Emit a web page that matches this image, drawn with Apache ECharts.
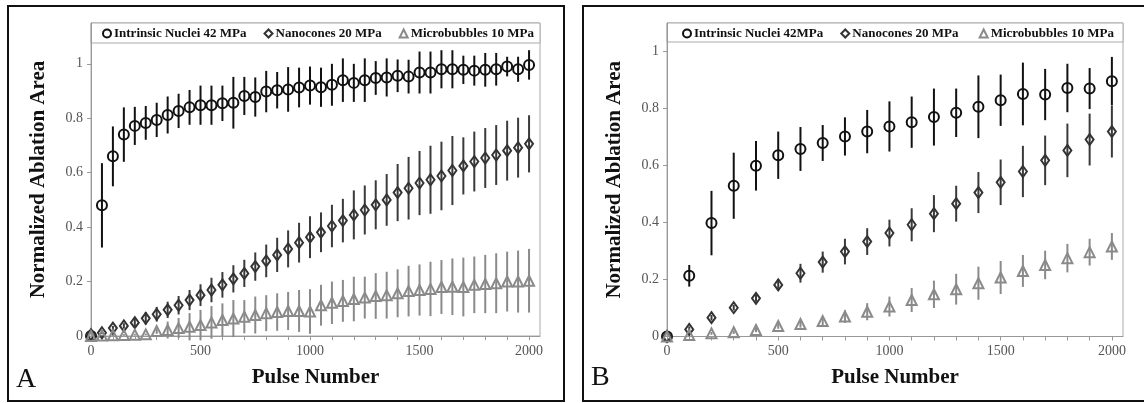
<!DOCTYPE html>
<html>
<head>
<meta charset="utf-8">
<script src="https://cdn.jsdelivr.net/npm/echarts@6/dist/echarts.min.js"></script>
<style>
  html, body { margin: 0; padding: 0; background: #fff; }
  #chart { width: 1144px; height: 403px; }
</style>
</head>
<body>
<div id="chart"></div>
<script>
// Panel A: every 50 pulses
const pulsesA = [0, 50, 100, 150, 200, 250, 300, 350, 400, 450, 500, 550, 600, 650, 700, 750, 800, 850, 900, 950,
  1000, 1050, 1100, 1150, 1200, 1250, 1300, 1350, 1400, 1450, 1500, 1550, 1600, 1650, 1700, 1750, 1800, 1850, 1900, 1950, 2000];
const nucleiA = [0, 0.48, 0.66, 0.74, 0.772, 0.783, 0.794, 0.812, 0.827, 0.84, 0.848, 0.848, 0.855, 0.857, 0.882, 0.878, 0.898, 0.903, 0.906, 0.913,
  0.92, 0.914, 0.923, 0.94, 0.93, 0.94, 0.948, 0.95, 0.956, 0.953, 0.968, 0.968, 0.98, 0.98, 0.978, 0.975, 0.978, 0.98, 0.99, 0.98, 0.996];
const nucleiErrA = [0, 0.155, 0.11, 0.1, 0.07, 0.062, 0.063, 0.068, 0.063, 0.064, 0.072, 0.072, 0.065, 0.095, 0.07, 0.072, 0.076, 0.067, 0.082, 0.073,
  0.07, 0.072, 0.077, 0.08, 0.07, 0.08, 0.062, 0.07, 0.06, 0.062, 0.077, 0.077, 0.07, 0.07, 0.052, 0.055, 0.062, 0.06, 0.036, 0.046, 0.054];
const conesA = [0.005, 0.012, 0.029, 0.037, 0.049, 0.065, 0.08, 0.096, 0.113, 0.132, 0.15, 0.169, 0.188, 0.21, 0.23, 0.255, 0.276, 0.298, 0.32, 0.343,
  0.363, 0.381, 0.404, 0.424, 0.445, 0.463, 0.482, 0.5, 0.527, 0.543, 0.562, 0.574, 0.588, 0.608, 0.625, 0.641, 0.654, 0.665, 0.681, 0.692, 0.706];
const conesErrA = [0, 0.005, 0.008, 0.01, 0.015, 0.023, 0.027, 0.03, 0.034, 0.037, 0.04, 0.045, 0.047, 0.05, 0.05, 0.052, 0.06, 0.063, 0.068, 0.073,
  0.077, 0.073, 0.078, 0.08, 0.09, 0.09, 0.09, 0.095, 0.105, 0.115, 0.118, 0.125, 0.126, 0.127, 0.105, 0.11, 0.11, 0.11, 0.11, 0.11, 0.105];
const bubblesA = [0, 0.002, 0.003, 0.004, 0.005, 0.006, 0.018, 0.022, 0.029, 0.034, 0.04, 0.05, 0.059, 0.064, 0.071, 0.077, 0.084, 0.088, 0.092, 0.092,
  0.09, 0.113, 0.122, 0.129, 0.136, 0.141, 0.147, 0.15, 0.157, 0.165, 0.169, 0.173, 0.18, 0.181, 0.18, 0.188, 0.191, 0.194, 0.2, 0.2, 0.203];
const bubblesErrA = [0, 0.002, 0.003, 0.003, 0.003, 0.003, 0.01, 0.031, 0.037, 0.05, 0.056, 0.06, 0.061, 0.068, 0.061, 0.068, 0.066, 0.069, 0.07, 0.077,
  0.082, 0.075, 0.078, 0.077, 0.082, 0.077, 0.084, 0.086, 0.088, 0.093, 0.094, 0.1, 0.099, 0.104, 0.108, 0.104, 0.107, 0.11, 0.11, 0.114, 0.117];

// Panel B: every 100 pulses
const pulsesB = [0, 100, 200, 300, 400, 500, 600, 700, 800, 900, 1000, 1100, 1200, 1300, 1400, 1500, 1600, 1700, 1800, 1900, 2000];
const nucleiB = [0, 0.213, 0.398, 0.529, 0.599, 0.636, 0.658, 0.679, 0.702, 0.719, 0.737, 0.752, 0.77, 0.785, 0.806, 0.829, 0.851, 0.849, 0.872, 0.87, 0.896];
const nucleiErrB = [0, 0.038, 0.113, 0.116, 0.087, 0.083, 0.077, 0.063, 0.067, 0.076, 0.088, 0.09, 0.1, 0.085, 0.11, 0.09, 0.11, 0.09, 0.085, 0.072, 0.085];
const conesB = [0, 0.025, 0.066, 0.101, 0.134, 0.181, 0.222, 0.261, 0.298, 0.333, 0.363, 0.392, 0.431, 0.466, 0.505, 0.541, 0.579, 0.618, 0.653, 0.691, 0.719];
const conesErrB = [0, 0.01, 0.01, 0.01, 0.012, 0.02, 0.033, 0.037, 0.045, 0.047, 0.047, 0.058, 0.065, 0.063, 0.072, 0.08, 0.09, 0.087, 0.094, 0.091, 0.091];
const bubblesB = [0, 0.005, 0.011, 0.015, 0.023, 0.037, 0.044, 0.054, 0.07, 0.087, 0.105, 0.128, 0.148, 0.166, 0.187, 0.207, 0.23, 0.251, 0.275, 0.296, 0.316];
const bubblesErrB = [0, 0.003, 0.005, 0.006, 0.008, 0.01, 0.013, 0.015, 0.022, 0.03, 0.035, 0.042, 0.048, 0.054, 0.058, 0.058, 0.056, 0.05, 0.05, 0.047, 0.047];

const xTickValues = [0, 100, 200, 300, 400, 500, 600, 700, 800, 900, 1000, 1100, 1200, 1300, 1400, 1500, 1600, 1700, 1800, 1900, 2000];
const xLabelValues = [0, 500, 1000, 1500, 2000];
const yValues = [0, 0.2, 0.4, 0.6, 0.8, 1];

const SERIF = '"Liberation Serif", "DejaVu Serif", serif';
const styles = {
  nuclei: { symbol: 'circle', size: 10, color: '#111', bar: '#111' },
  cones: { symbol: 'diamond', size: [8, 11], color: '#333', bar: '#3a3a3a' },
  bubbles: { symbol: 'triangle', size: 10, color: '#8a8a8a', bar: '#8a8a8a' },
};

const chart = echarts.init(document.getElementById('chart'));

function toPoints(xs, ys, errs) {
  return xs.map((x, i) => [x, ys[i], errs[i]]);
}

function errorSeries(grid, points, color) {
  return {
    type: 'custom',
    xAxisIndex: grid,
    yAxisIndex: grid,
    silent: true,
    z: 3,
    renderItem: (params, api) => {
      const x = api.value(0);
      const v = api.value(1);
      const e = api.value(2);
      const top = api.coord([x, v + e]);
      const bottom = api.coord([x, v - e]);
      return {
        type: 'line',
        shape: { x1: top[0], y1: top[1], x2: bottom[0], y2: bottom[1] },
        style: { stroke: color, lineWidth: 2 },
      };
    },
    data: points,
  };
}

function markerSeries(grid, name, points, st) {
  return {
    name: name,
    type: 'scatter',
    xAxisIndex: grid,
    yAxisIndex: grid,
    symbol: st.symbol,
    symbolSize: st.size,
    z: 4,
    itemStyle: { color: 'rgba(255,255,255,0)', borderColor: st.color, borderWidth: 2, opacity: 1 },
    data: points.map((p) => [p[0], p[1]]),
  };
}

function xAxisFor(grid) {
  return {
    type: 'value',
    gridIndex: grid,
    min: 0,
    max: 2050,
    name: 'Pulse Number',
    nameLocation: 'middle',
    nameGap: 31,
    nameTextStyle: { fontFamily: SERIF, fontWeight: 'bold', fontSize: 21, color: '#111' },
    axisLine: { show: true, lineStyle: { color: '#999', width: 1 } },
    axisTick: { show: true, inside: false, length: 4, lineStyle: { color: '#999' }, customValues: xTickValues },
    axisLabel: { fontFamily: SERIF, fontSize: 14, color: '#555', margin: 8, customValues: xLabelValues, formatter: (v) => String(v) },
    splitLine: { show: false },
  };
}

function yAxisFor(grid, max) {
  return {
    type: 'value',
    gridIndex: grid,
    min: 0,
    max: max,
    name: 'Normalized Ablation Area',
    nameLocation: 'middle',
    nameGap: 42,
    nameTextStyle: { fontFamily: SERIF, fontWeight: 'bold', fontSize: 21, color: '#111' },
    axisLine: { show: true, lineStyle: { color: '#999', width: 1 } },
    axisTick: { show: true, inside: false, length: 4, lineStyle: { color: '#999' }, customValues: yValues },
    axisLabel: { fontFamily: SERIF, fontSize: 14, color: '#555', margin: 8, customValues: yValues, formatter: (v) => String(v) },
    splitLine: { show: false },
  };
}

function legendFor(left, names) {
  return {
    left: left,
    top: 27,
    itemWidth: 8,
    itemHeight: 8,
    itemGap: 17,
    padding: 0,
    selectedMode: false,
    textStyle: { fontFamily: SERIF, fontWeight: 'bold', fontSize: 13, color: '#111', padding: [0, 0, 0, -2] },
    data: names,
  };
}

const namesA = ['Intrinsic Nuclei 42 MPa', 'Nanocones 20 MPa', 'Microbubbles 10 MPa'];
const namesB = ['Intrinsic Nuclei 42MPa', 'Nanocones 20 MPa ', 'Microbubbles 10 MPa '];

const panelA = [toPoints(pulsesA, nucleiA, nucleiErrA), toPoints(pulsesA, conesA, conesErrA), toPoints(pulsesA, bubblesA, bubblesErrA)];
const panelB = [toPoints(pulsesB, nucleiB, nucleiErrB), toPoints(pulsesB, conesB, conesErrB), toPoints(pulsesB, bubblesB, bubblesErrB)];
const keys = ['nuclei', 'cones', 'bubbles'];

const series = [];
[panelA, panelB].forEach((panel, g) => {
  const names = g === 0 ? namesA : namesB;
  panel.forEach((pts, i) => {
    const st = styles[keys[i]];
    series.push(markerSeries(g, names[i], pts, st));
    series.push(errorSeries(g, pts, st.bar));
  });
});

chart.setOption({
  animation: false,
  backgroundColor: '#fff',
  grid: [
    { left: 91, top: 23, width: 449, height: 313, show: true, borderColor: '#aaa', borderWidth: 1, containLabel: false },
    { left: 667, top: 23, width: 456, height: 313.5, show: true, borderColor: '#aaa', borderWidth: 1, containLabel: false },
  ],
  xAxis: [xAxisFor(0), xAxisFor(1)],
  yAxis: [yAxisFor(0, 1.15), yAxisFor(1, 1.10)],
  legend: [legendFor(102, namesA), legendFor(682, namesB)],
  graphic: [
    { type: 'rect', shape: { x: 8, y: 6, width: 556, height: 395 }, style: { fill: 'none', stroke: '#111', lineWidth: 2 }, silent: true },
    { type: 'rect', shape: { x: 583, y: 6, width: 600, height: 395 }, style: { fill: 'none', stroke: '#111', lineWidth: 2 }, silent: true },
    { type: 'rect', shape: { x: 91, y: 23, width: 449, height: 20 }, style: { fill: '#fff', stroke: '#aaa', lineWidth: 1 }, silent: true, z: 0 },
    { type: 'rect', shape: { x: 667, y: 23, width: 456, height: 19 }, style: { fill: '#fff', stroke: '#aaa', lineWidth: 1 }, silent: true, z: 0 },
    { type: 'text', left: 16, top: 366, style: { text: 'A', fontFamily: SERIF, fontSize: 28, fill: '#111' }, silent: true },
    { type: 'text', left: 591, top: 364, style: { text: 'B', fontFamily: SERIF, fontSize: 28, fill: '#111' }, silent: true },
  ],
  series: series,
});
</script>
</body>
</html>
